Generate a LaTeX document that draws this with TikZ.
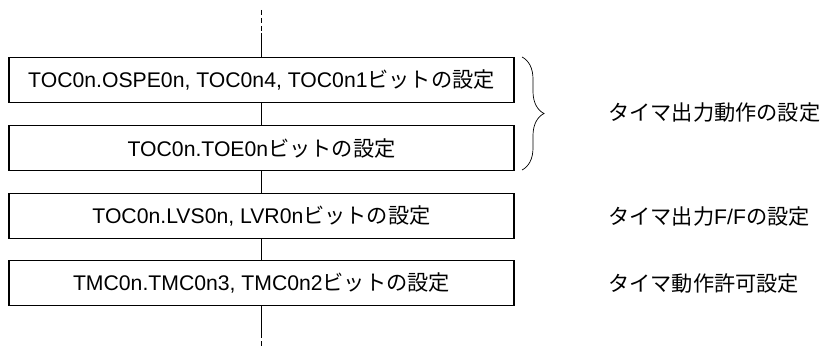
\documentclass[tikz,border=0pt]{standalone}
\usepackage{fontspec}
\setmainfont{Liberation Sans}
\newfontfamily\jpfont{Noto Sans CJK JP}
\usetikzlibrary{decorations.pathreplacing,positioning}

\newcommand{\jp}[1]{{\jpfont #1}}

\tikzset{
  stepbox/.style={draw, line width=1.7pt, minimum width=505pt, minimum height=45pt,
    inner sep=0pt, font=\fontsize{21.2}{24}\selectfont},
  note/.style={anchor=west, inner sep=0pt, font=\fontsize{21.2}{24}\selectfont},
  flow/.style={line width=0.8pt}
}

\begin{document}
\begin{tikzpicture}[x=1pt,y=-1pt]
\useasboundingbox (0,0) rectangle (821,347);

\node[stepbox] (ospe) at (261.5,80) {TOC0n.OSPE0n, TOC0n4, TOC0n1\jp{ビットの設定}};
\node[stepbox] (toe) at (261.5,148) {TOC0n.TOE0n\jp{ビットの設定}};
\node[stepbox] (lvs) at (261.5,216) {TOC0n.LVS0n, LVR0n\jp{ビットの設定}};
\node[stepbox] (tmc) at (261.5,283) {TMC0n.TMC0n3, TMC0n2\jp{ビットの設定}};

\coordinate (top) at (261.5,10);
\coordinate (topjoin) at (261.5,33);
\coordinate (bottomjoin) at (261.5,333);
\coordinate (bottom) at (261.5,347);

\draw [flow, dash pattern=on 5pt off 3pt] (top) -- (topjoin);
\draw [flow] (topjoin) -- (ospe);
\draw [flow] (ospe) -- (toe);
\draw [flow] (toe) -- (lvs);
\draw [flow] (lvs) -- (tmc);
\draw [flow] (tmc) -- (bottomjoin);
\draw [flow, dash pattern=on 5pt off 3pt] (bottomjoin) -- (bottom);

\coordinate (bracetop) at (522,57);
\coordinate (bracebottom) at (522,170);
\draw [line width=0.7pt, decorate, decoration={brace, amplitude=22pt}] (bracetop) -- (bracebottom);

\node[note] (outmode) at (608,112) {\jp{タイマ出力動作の設定}};
\node[note] (outff) at (608,216) {\jp{タイマ出力}F/F\jp{の設定}};
\node[note] (enable) at (608,283) {\jp{タイマ動作許可設定}};
\end{tikzpicture}
\end{document}
